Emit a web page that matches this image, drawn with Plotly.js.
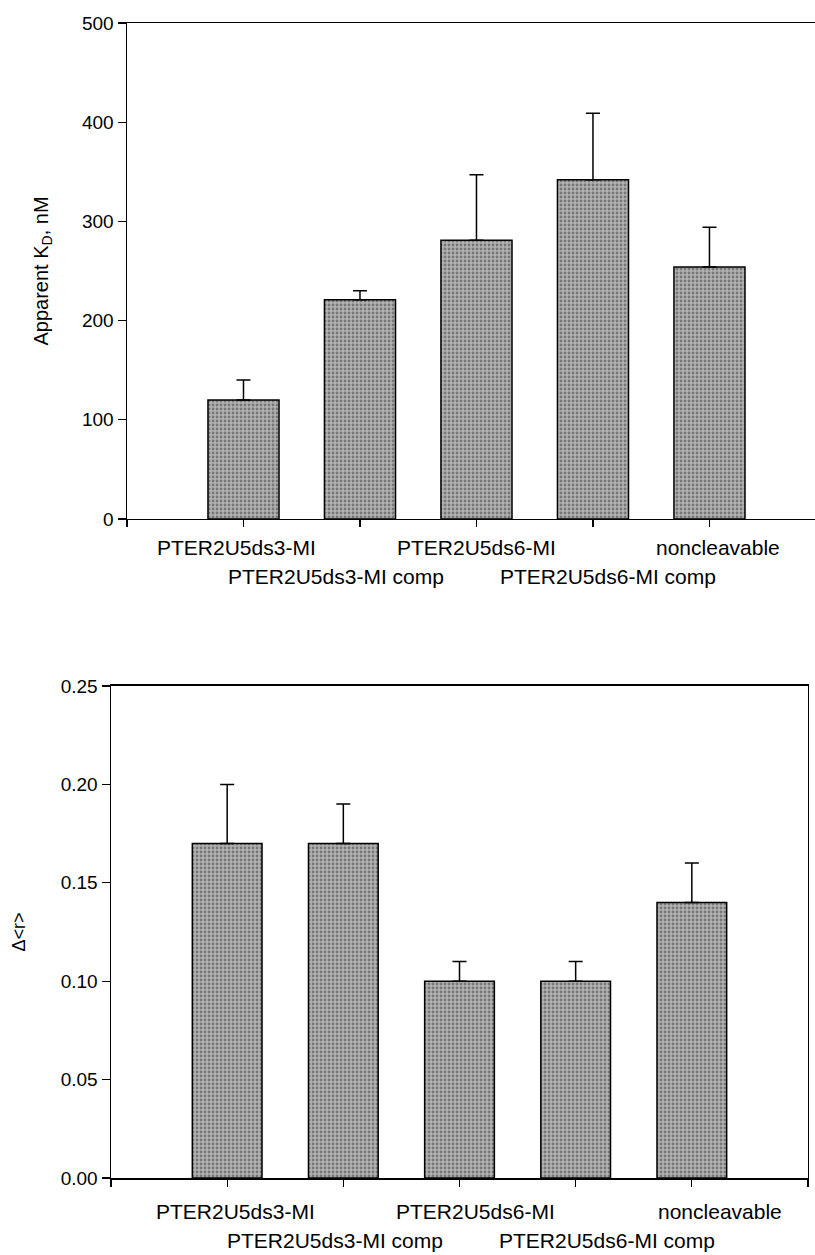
<!DOCTYPE html>
<html>
<head>
<meta charset="utf-8">
<script src="https://cdn.plot.ly/plotly-3.0.1.min.js"></script>
<style>html,body{margin:0;padding:0;background:#fff;}#chart{width:815px;height:1255px;}</style>
</head>
<body>
<div id="chart"></div>
<script>
// ---- data ----
const categories = ["PTER2U5ds3-MI", "PTER2U5ds3-MI comp", "PTER2U5ds6-MI", "PTER2U5ds6-MI comp", "noncleavable"];
const kdValues = [120, 221, 281, 342, 254];
const kdErrors = [20, 9, 66, 67, 40];
const drValues = [0.17, 0.17, 0.10, 0.10, 0.14];
const drErrors = [0.03, 0.02, 0.01, 0.01, 0.02];
const kdTicks = [0, 100, 200, 300, 400, 500];
const drTicks = [0, 0.05, 0.10, 0.15, 0.20, 0.25];
const drTickText = ["0.00", "0.05", "0.10", "0.15", "0.20", "0.25"];

const xIdx = categories.map((c, i) => i);
const tickVals = [-1].concat(xIdx, [categories.length]);

const FONT = "Liberation Sans, Arial, sans-serif";
const barMarker = {
  color: "#a5a5a5",
  line: {color: "#000", width: 1.5},
  pattern: {shape: ".", fgcolor: "#777777", bgcolor: "#b3b3b3", size: 4, solidity: 0.4}
};

const traces = [
  {
    type: "bar", x: xIdx, y: kdValues, xaxis: "x", yaxis: "y", width: 0.61,
    marker: barMarker,
    error_y: {type: "data", symmetric: false, array: kdErrors, arrayminus: kdErrors.map(() => 0), color: "#000", thickness: 1.5, width: 7},
    hoverinfo: "skip", showlegend: false
  },
  {
    type: "bar", x: xIdx, y: drValues, xaxis: "x2", yaxis: "y2", width: 0.6,
    marker: barMarker,
    error_y: {type: "data", symmetric: false, array: drErrors, arrayminus: drErrors.map(() => 0), color: "#000", thickness: 1.5, width: 7},
    hoverinfo: "skip", showlegend: false
  }
];

const axisCommon = {
  showgrid: false, zeroline: false, showline: true, linecolor: "#000", linewidth: 1.5,
  ticks: "outside", ticklen: 8, tickwidth: 1.2, tickcolor: "#000",
  tickfont: {family: FONT, size: 19, color: "#000"}, automargin: false
};

// staggered category labels (label styling/offsets)
const labelFont = {family: FONT, size: 21, color: "#000"};
const rowShift = [-31, -60, -31, -60, -31];
const topShift = [-7, -24, 0, 15, 9];
const botShift = [8, -8, 16, 31, 28];
function labelAnnos(xa, ya, shifts, rowOff) {
  return categories.map((c, i) => ({
    text: c, x: i, xref: xa, y: 0, yref: ya + " domain",
    xshift: shifts[i], yshift: rowShift[i] - rowOff, showarrow: false,
    xanchor: "center", yanchor: "middle", font: labelFont
  }));
}

const layout = {
  width: 815, height: 1255,
  margin: {l: 0, r: 0, t: 0, b: 0},
  paper_bgcolor: "#fff", plot_bgcolor: "#fff",
  font: {family: FONT, color: "#000"},
  xaxis: Object.assign({}, axisCommon, {
    domain: [0.15583, 1], range: [-1, 4.906], mirror: true,
    tickmode: "array", tickvals: tickVals, ticklen: 7, showticklabels: false, anchor: "y"
  }),
  yaxis: Object.assign({}, axisCommon, {
    domain: [0.5865, 0.98167], range: [0, 500], mirror: false,
    tickmode: "array", tickvals: kdTicks, anchor: "x",
    title: {text: "Apparent K<sub>D</sub>, nM", font: {family: FONT, size: 20, color: "#000"}, standoff: 28}
  }),
  xaxis2: Object.assign({}, axisCommon, {
    domain: [0.1362, 0.99141], range: [-1, 5], mirror: true,
    tickmode: "array", tickvals: tickVals, ticklen: 7, showticklabels: false, anchor: "y2"
  }),
  yaxis2: Object.assign({}, axisCommon, {
    domain: [0.06135, 0.45339], range: [0, 0.25], mirror: true,
    tickmode: "array", tickvals: drTicks, ticktext: drTickText, anchor: "x2",
    title: {text: "Δ&lt;r&gt;", font: {family: FONT, size: 18, color: "#000"}, standoff: 30}
  }),
  annotations: labelAnnos("x", "y", topShift, -2).concat(labelAnnos("x2", "y2", botShift, 2)),
  bargap: 0.4
};

Plotly.newPlot("chart", traces, layout, {staticPlot: true, displayModeBar: false});
</script>
</body>
</html>
